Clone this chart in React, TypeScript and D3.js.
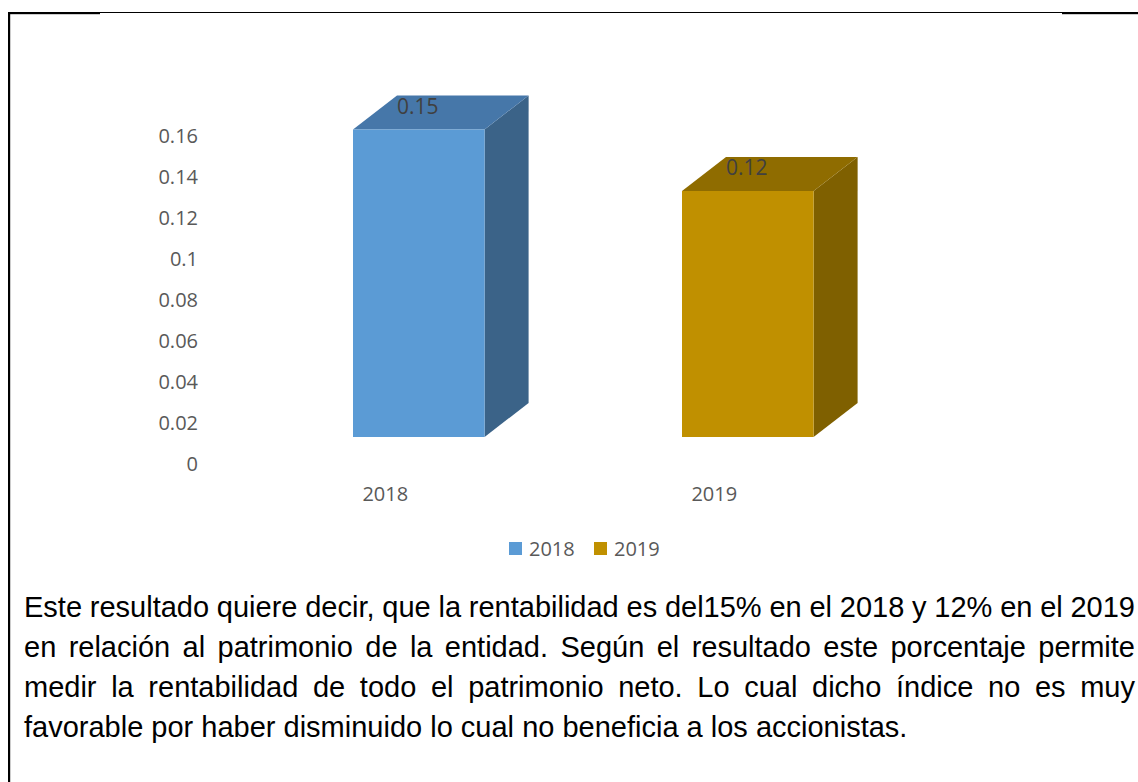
import React, { useMemo } from 'react';
import * as d3 from 'd3';

const categories = ['2018', '2019'];
const values = [0.15, 0.12];
const yTicks = [0, 0.02, 0.04, 0.06, 0.08, 0.1, 0.12, 0.14, 0.16];
const legendLabels = ['2018', '2019'];
const frontColors = ['#5B9BD5', '#C09000'];
const topColors = ['#4677A9', '#8F6C00'];
const sideColors = ['#3B6388', '#7F6000'];

const paragraphLines = [
  'Este resultado quiere decir, que la rentabilidad es del15% en el 2018 y 12% en el 2019',
  'en relación al patrimonio de la entidad. Según el resultado este porcentaje permite',
  'medir la rentabilidad de todo el patrimonio neto. Lo cual dicho índice no es muy',
  'favorable por haber disminuido lo cual no beneficia a los accionistas.',
];

const W = 1138;
const H = 782;
const chartFont = "'Open Sans', sans-serif";
const bodyFont = "'Liberation Sans', Arial, sans-serif";
const bodySize = 29;

export default function App() {
  const y = d3.scaleLinear().domain([0, 0.16]).range([464, 136]);
  const x = d3.scaleBand().domain(categories).range([254.3, 912.3]).paddingInner(0.6).paddingOuter(0.3);
  const floorShift = 27;
  const dx = 44;
  const dy = -34;

  const justified = useMemo(() => {
    const canvas = document.createElement('canvas');
    const ctx = canvas.getContext('2d')!;
    ctx.font = `${bodySize}px ${bodyFont}`;
    const left = 24;
    const right = 1135;
    return paragraphLines.map((line, i) => {
      const words = line.split(' ');
      const widths = words.map((w) => ctx.measureText(w).width);
      const spaceW = ctx.measureText(' ').width;
      const total = widths.reduce((a, b) => a + b, 0);
      const last = i === paragraphLines.length - 1;
      const gap = last || words.length < 2 ? spaceW : (right - left - total) / (words.length - 1);
      let cx = left;
      return words.map((w, j) => {
        const pos = cx;
        cx += widths[j] + gap;
        return { w, x: pos };
      });
    });
  }, []);

  return (
    <svg
      width={W}
      height={H}
      style={{ position: 'absolute', left: 0, top: 0, display: 'block', background: '#fff' }}
    >
      <rect x={0} y={0} width={W} height={H} fill="#fff" />
      {/* frame */}
      <rect x={100} y={12} width={962} height={1} fill="#000" />
      <rect x={8} y={12} width={92} height={2.2} fill="#000" />
      <rect x={1062} y={12} width={76} height={2.2} fill="#000" />
      <rect x={8} y={12} width={2.2} height={H - 12} fill="#000" />

      {/* y axis labels */}
      {yTicks.map((t) => (
        <text
          key={t}
          x={198}
          y={y(t)}
          dy="0.35em"
          textAnchor="end"
          fontFamily={chartFont}
          fontSize={20}
          fill="#595959"
        >
          {String(+t.toFixed(2))}
        </text>
      ))}

      {/* bars */}
      {categories.map((c, i) => {
        const x0 = x(c)!;
        const bw = x.bandwidth();
        const yb = y(0) - floorShift;
        const yt = y(values[i]) - floorShift;
        const top = `M${x0},${yt} L${x0 + dx},${yt + dy} L${x0 + bw + dx},${yt + dy} L${x0 + bw},${yt} Z`;
        const side = `M${x0 + bw},${yt} L${x0 + bw + dx},${yt + dy} L${x0 + bw + dx},${yb + dy} L${x0 + bw},${yb} Z`;
        return (
          <g key={c}>
            <path d={side} fill={sideColors[i]} />
            <path d={top} fill={topColors[i]} />
            <rect x={x0} y={yt} width={bw} height={yb - yt} fill={frontColors[i]} />
            <text
              x={x0 + bw / 2 - 1}
              y={yt - 16}
              textAnchor="middle"
              fontFamily={chartFont}
              fontSize={21}
              fill="#404040"
            >
              {String(values[i])}
            </text>
            <text
              x={x0 + bw / 2 - 33.5}
              y={501}
              textAnchor="middle"
              fontFamily={chartFont}
              fontSize={20}
              fill="#595959"
            >
              {c}
            </text>
          </g>
        );
      })}

      {/* legend */}
      {legendLabels.map((l, i) => {
        const lx = 509 + i * 85;
        return (
          <g key={l}>
            <rect x={lx} y={542} width={13} height={13} fill={frontColors[i]} />
            <text x={lx + 20} y={556} fontFamily={chartFont} fontSize={20} fill="#595959">
              {l}
            </text>
          </g>
        );
      })}

      {/* paragraph */}
      {justified.map((words, i) => (
        <text key={i} y={617 + i * 40} fontFamily={bodyFont} fontSize={bodySize} fill="#000">
          {words.map((wd, j) => (
            <tspan key={j} x={wd.x}>
              {wd.w}
            </tspan>
          ))}
        </text>
      ))}
    </svg>
  );
}
